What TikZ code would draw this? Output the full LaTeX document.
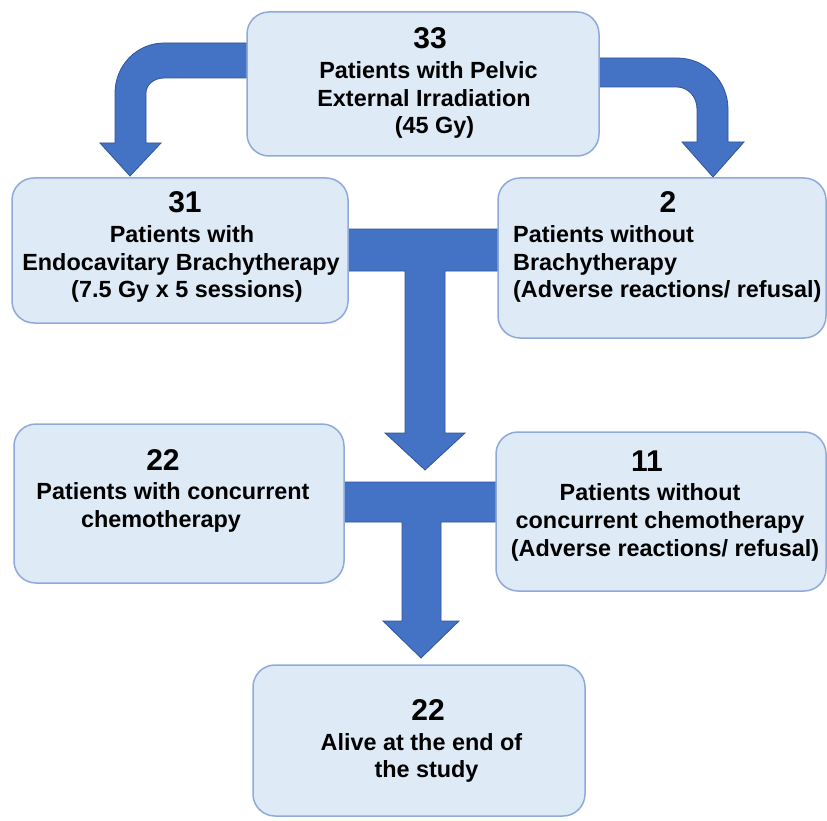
\documentclass[tikz,border=0pt]{standalone}
\usepackage{fontspec}
\setmainfont{Liberation Sans}
\definecolor{boxfill}{HTML}{DEEBF7}
\definecolor{boxline}{HTML}{8EAADB}
\definecolor{arrfill}{HTML}{4472C4}
\definecolor{arrline}{HTML}{2F5597}
\tikzset{
  box/.style={draw=boxline, fill=boxfill, line width=1.5pt, rounded corners=22pt, inner sep=0pt},
  flow/.style={fill=arrfill, draw=arrline, line width=0.8pt, line join=miter},
  num/.style={inner sep=0pt, anchor=base, font=\fontsize{30}{36}\selectfont\bfseries},
  txt/.style={inner sep=0pt, anchor=base, font=\fontsize{23.4}{28}\selectfont\bfseries},
  txtl/.style={txt, anchor=base west}
}
\begin{document}
\begin{tikzpicture}[x=1pt,y=-1pt]
\useasboundingbox (0,0) rectangle (827,821);
% connectors (filled block arrows)
\draw[flow] (255,43) -- (164,43) arc[start angle=270,end angle=180,x radius=49,y radius=50]
  -- (115,143) -- (100,143) -- (130,176) -- (161,143) -- (146,143) -- (146,93)
  arc[start angle=180,end angle=270,x radius=18,y radius=15] -- (255,78) -- cycle;
\draw[flow] (590,58) -- (677,58) arc[start angle=270,end angle=360,x radius=51,y radius=51]
  -- (728,142) -- (744,142) -- (713,177) -- (682,142) -- (697,142) -- (697,109)
  arc[start angle=0,end angle=-90,x radius=20,y radius=22] -- (590,87) -- cycle;
\draw[flow] (340,229) -- (505,229) -- (505,271) -- (445,271) -- (445,433) -- (465,433)
  -- (425,470) -- (385,433) -- (405,433) -- (405,271) -- (340,271) -- cycle;
\draw[flow] (336,482) -- (503,482) -- (503,522) -- (441,522) -- (441,621) -- (459,621)
  -- (421,658) -- (383,621) -- (402,621) -- (402,522) -- (336,522) -- cycle;
% boxes
\node[box, minimum width=352pt, minimum height=144pt] (top) at (423,84) {};
\node[box, minimum width=336pt, minimum height=145pt] (l2) at (180,250.5) {};
\node[box, minimum width=328pt, minimum height=160pt] (r2) at (662,258) {};
\node[box, minimum width=330pt, minimum height=159pt] (l3) at (179,503.5) {};
\node[box, minimum width=330pt, minimum height=159pt] (r3) at (661,511.5) {};
\node[box, minimum width=332pt, minimum height=151pt] (bot) at (419,740.5) {};
% texts
\node[num] (topn) at (430,49) {33};
\node[txt] (topa) at (428.5,79) {Patients with Pelvic};
\node[txt] (topb) at (424,107) {External Irradiation};
\node[txt] (topc) at (434.5,134) {(45 Gy)};
\node[num] (l2n) at (185,212) {31};
\node[txt] (l2a) at (182,242) {Patients with};
\node[txt] (l2b) at (181,270) {Endocavitary Brachytherapy};
\node[txt] (l2c) at (187,297) {(7.5 Gy x 5 sessions)};
\node[num] (r2n) at (668,212) {2};
\node[txtl] (r2a) at (513,242) {Patients without};
\node[txtl] (r2b) at (513,270) {Brachytherapy};
\node[txtl] (r2c) at (513,297) {(Adverse reactions/ refusal)};
\node[num] (l3n) at (163,470) {22};
\node[txt] (l3a) at (173,499) {Patients with concurrent};
\node[txt] (l3b) at (161,527) {chemotherapy};
\node[num] (r3n) at (647,471) {11};
\node[txt] (r3a) at (650,500) {Patients without};
\node[txt] (r3b) at (660,528) {concurrent chemotherapy};
\node[txt] (r3c) at (665,556) {(Adverse reactions/ refusal)};
\node[num] (botn) at (428,720) {22};
\node[txt] (bota) at (421.5,750) {Alive at the end of};
\node[txt] (botb) at (426.5,777) {the study};
\end{tikzpicture}
\end{document}
